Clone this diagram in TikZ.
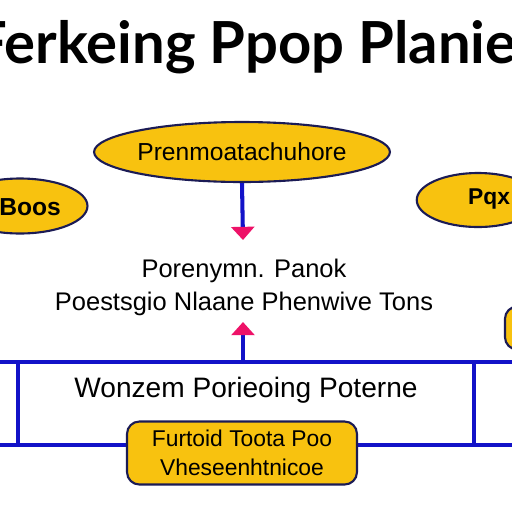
\documentclass[tikz,border=0pt]{standalone}
\usepackage{fontspec}
\setmainfont{Liberation Sans}
\newfontfamily\headfont{Lato}
\usetikzlibrary{shapes.geometric,arrows.meta}

\definecolor{gold}{HTML}{F8C20F}
\definecolor{navy}{HTML}{1B1B55}
\definecolor{lineblue}{HTML}{1212C8}
\definecolor{tippink}{HTML}{EE1268}

\tikzset{
  bubble/.style={ellipse,draw=navy,fill=gold,line width=1.2pt,inner sep=0pt},
  tag/.style={rectangle,rounded corners=7pt,draw=navy,fill=gold,line width=1.2pt,align=center,inner sep=0pt},
  link/.style={draw=lineblue,line width=2.8pt},
  flow/.style={lineblue,line width=2.3pt,-{Triangle[color=tippink,length=7.5pt,width=13pt]}},
  caption/.style={font=\fontsize{14.5}{18.7}\selectfont,align=center},
}

\begin{document}
\begin{tikzpicture}[x=0.02cm,y=-0.02cm]
  \useasboundingbox (0,0) rectangle (512,512);
  \clip (0,0) rectangle (512,512);
  \fill[white] (0,0) rectangle (512,512);

  % title
  \node[anchor=base west,inner sep=0pt] (title) at (-26,63) {\headfont\bfseries\fontsize{33}{33}\selectfont Ferkeing Ppop Planier};

  % ellipses
  \node[bubble,minimum width=5.1cm,minimum height=1.2cm] (plan) at (242,152)
    {\fontsize{14}{14}\selectfont Prenmoatachuhore};
  \node[bubble,minimum width=2.7cm,minimum height=1.1cm] (left) at (20,206) {};
  \node[font=\bfseries\fontsize{14}{14}\selectfont] (lefttext) at (30,207) {Boos};
  \node[bubble,minimum width=2.45cm,minimum height=1.08cm] (right) at (478,200) {};
  \node[font=\bfseries\fontsize{13}{13}\selectfont,anchor=west] (righttext) at (462,199) {Pqx};
  \node[tag,minimum width=1.2cm,minimum height=0.86cm] (side) at (535,328) {};

  % middle text
  \node[caption] (core) at (244,287) {Porenymn. Panok\\Poestsgio Nlaane Phenwive Tons};
  \coordinate (tipA) at (243,240);
  \coordinate (tipB) at (243,322);
  \coordinate (base) at (243,362);
  \draw[flow] (plan.south) -- (tipA);
  \draw[flow] (base) -- (tipB);

  % frame
  \draw[link] (0,362) -- (512,362);
  \draw[link] (18,362) -- (18,445);
  \draw[link] (474,362) -- (474,445);
  \draw[link] (0,445) -- (512,445);
  \node[font=\fontsize{16}{16}\selectfont] (work) at (246,390) {Wonzem Porieoing Poterne};

  % bottom tag
  \node[tag,minimum width=4.6cm,minimum height=1.26cm,font=\fontsize{13}{16.5}\selectfont] (tools) at (242,453)
    {Furtoid Toota Poo\\Vheseenhtnicoe};
\end{tikzpicture}
\end{document}
